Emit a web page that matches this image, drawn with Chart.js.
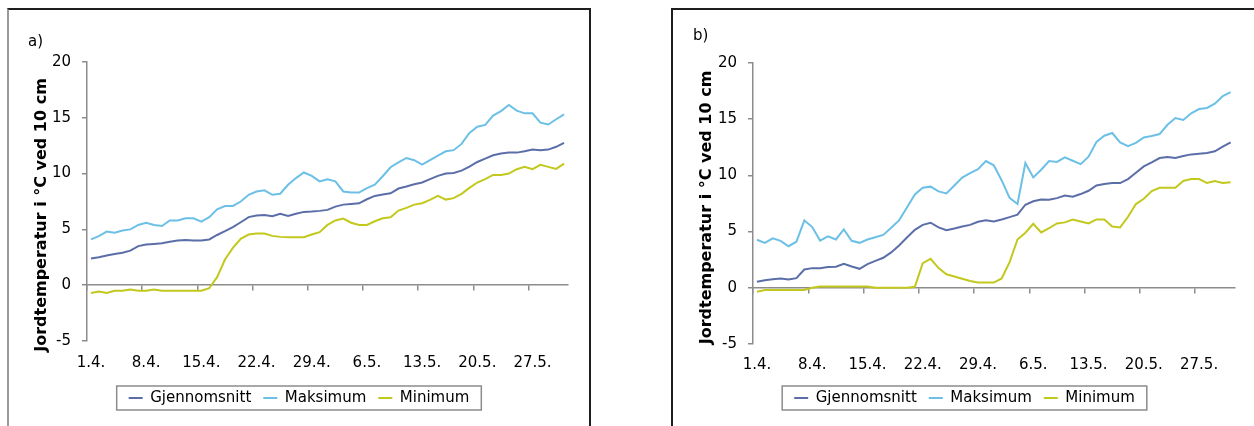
<!DOCTYPE html>
<html>
<head>
<meta charset="utf-8">
<script src="https://cdn.jsdelivr.net/npm/chart.js@4.4.1/dist/chart.umd.min.js"></script>
<style>
  body { margin: 0; background: #fff; overflow: hidden; width: 1254px; height: 426px; position: relative; }
  .panel { position: absolute; top: 8px; height: 440px; }
  #panelA { left: 7px; width: 580px; border-top: 2px solid #1e1e1e; border-left: 2px solid #9a9a9a; border-right: 2px solid #1e1e1e; }
  #panelB { left: 671px; width: 600px; border-top: 2px solid #1e1e1e; border-left: 2px solid #1e1e1e; }
  .panel canvas { position: absolute; left: 0; top: 0; }
  .tag { position: absolute; font: 15px 'DejaVu Sans', sans-serif; line-height: 18px; color: #000; }
</style>
</head>
<body>
<div class="panel" id="panelA"><canvas id="chartA" width="580" height="416"></canvas></div>
<div class="panel" id="panelB"><canvas id="chartB" width="583" height="416"></canvas></div>
<div class="tag" style="left:28px; top:32px;">a)</div>
<div class="tag" style="left:693px; top:26px;">b)</div>
<script>
// Soil temperature at 10 cm, 1 April - 31 May

const dayLabels = [
    '1.4.', '2.4.', '3.4.', '4.4.', '5.4.', '6.4.', '7.4.', '8.4.', '9.4.', '10.4.',
    '11.4.', '12.4.', '13.4.', '14.4.', '15.4.', '16.4.', '17.4.', '18.4.', '19.4.', '20.4.',
    '21.4.', '22.4.', '23.4.', '24.4.', '25.4.', '26.4.', '27.4.', '28.4.', '29.4.', '30.4.',
    '1.5.', '2.5.', '3.5.', '4.5.', '5.5.', '6.5.', '7.5.', '8.5.', '9.5.', '10.5.',
    '11.5.', '12.5.', '13.5.', '14.5.', '15.5.', '16.5.', '17.5.', '18.5.', '19.5.', '20.5.',
    '21.5.', '22.5.', '23.5.', '24.5.', '25.5.', '26.5.', '27.5.', '28.5.', '29.5.', '30.5.',
    '31.5.'
];

// Panel a)
const avgA = [2.4, 2.5, 2.66, 2.8, 2.9, 3.1, 3.5, 3.64, 3.7, 3.76, 3.9, 4.0, 4.06, 4.0, 4.0, 4.1, 4.5, 4.84, 5.2, 5.64,
    6.1, 6.24, 6.3, 6.18, 6.4, 6.2, 6.4, 6.57, 6.6, 6.66, 6.75, 7.04, 7.22, 7.28, 7.34, 7.7, 8.0, 8.12, 8.24, 8.66,
    8.84, 9.04, 9.2, 9.5, 9.8, 10.0, 10.06, 10.27, 10.63, 11.04, 11.34, 11.64, 11.8, 11.88, 11.88, 12.0, 12.15, 12.1, 12.15, 12.4,
    12.75];
const maxA = [4.1, 4.4, 4.8, 4.7, 4.9, 5.0, 5.4, 5.6, 5.4, 5.3, 5.8, 5.8, 6.0, 6.0, 5.7, 6.1, 6.8, 7.1, 7.1, 7.5,
    8.1, 8.4, 8.5, 8.1, 8.2, 9.0, 9.6, 10.1, 9.8, 9.3, 9.5, 9.3, 8.4, 8.3, 8.3, 8.7, 9.0, 9.76, 10.57, 11.0,
    11.4, 11.2, 10.8, 11.2, 11.6, 12.0, 12.1, 12.66, 13.64, 14.2, 14.36, 15.2, 15.6, 16.15, 15.64, 15.4, 15.4, 14.57, 14.4, 14.87,
    15.3];
const minA = [-0.69, -0.57, -0.69, -0.5, -0.5, -0.39, -0.5, -0.5, -0.39, -0.5, -0.5, -0.5, -0.5, -0.5, -0.5, -0.27, 0.72, 2.3, 3.34, 4.15,
    4.54, 4.63, 4.63, 4.42, 4.33, 4.3, 4.3, 4.3, 4.54, 4.75, 5.4, 5.8, 5.97, 5.6, 5.4, 5.4, 5.73, 6.0, 6.09, 6.69,
    6.93, 7.22, 7.34, 7.64, 8.0, 7.67, 7.8, 8.18, 8.72, 9.2, 9.5, 9.88, 9.88, 10.0, 10.39, 10.6, 10.39, 10.78, 10.6, 10.42,
    10.9];

// Panel b)
const avgB = [0.53, 0.68, 0.77, 0.83, 0.74, 0.86, 1.63, 1.75, 1.75, 1.84, 1.87, 2.14, 1.9, 1.69, 2.1, 2.4, 2.67, 3.15, 3.77, 4.48,
    5.16, 5.6, 5.79, 5.37, 5.13, 5.28, 5.46, 5.6, 5.88, 6.0, 5.9, 6.08, 6.29, 6.5, 7.39, 7.7, 7.86, 7.83, 7.98, 8.2,
    8.1, 8.34, 8.63, 9.1, 9.23, 9.32, 9.32, 9.67, 10.24, 10.8, 11.16, 11.54, 11.63, 11.54, 11.72, 11.87, 11.93, 12.0, 12.14, 12.55,
    12.94];
const maxB = [4.27, 4.0, 4.4, 4.18, 3.7, 4.1, 6.0, 5.4, 4.2, 4.57, 4.3, 5.2, 4.18, 4.0, 4.3, 4.5, 4.7, 5.34, 6.0, 7.15,
    8.3, 8.9, 9.0, 8.58, 8.4, 9.1, 9.8, 10.2, 10.56, 11.28, 10.9, 9.55, 8.0, 7.45, 11.1, 9.82, 10.5, 11.28, 11.2, 11.6,
    11.3, 11.0, 11.66, 12.97, 13.53, 13.77, 12.94, 12.6, 12.9, 13.38, 13.5, 13.68, 14.5, 15.1, 14.93, 15.52, 15.9, 16.0, 16.38, 17.06,
    17.4];
const minB = [-0.36, -0.2, -0.2, -0.2, -0.2, -0.2, -0.2, 0.0, 0.12, 0.12, 0.12, 0.12, 0.12, 0.12, 0.12, 0.0, 0.0, 0.0, 0.0, 0.0,
    0.09, 2.2, 2.58, 1.75, 1.2, 1.0, 0.8, 0.6, 0.47, 0.47, 0.47, 0.83, 2.28, 4.3, 4.9, 5.7, 4.93, 5.3, 5.73, 5.82,
    6.08, 5.9, 5.73, 6.08, 6.08, 5.46, 5.37, 6.32, 7.45, 7.92, 8.6, 8.9, 8.9, 8.9, 9.5, 9.67, 9.67, 9.32, 9.5, 9.32,
    9.4];

const seriesNames = ['Gjennomsnitt', 'Maksimum', 'Minimum'];
const seriesColors = ['#5b6ea8', '#6cc0e6', '#c3c81c'];
const yTicks = [-5, 0, 5, 10, 15, 20];
const yTitle = 'Jordtemperatur i °C ved 10 cm';
const labelEvery = 7;

const axisGray = '#8c8c8c';

Chart.defaults.font.family = "'DejaVu Sans', sans-serif";
Chart.defaults.font.size = 15;
Chart.defaults.color = '#000';

// Rotated y title, centred a bit below the plot like Excel does
const yTitlePlugin = {
    id: 'yTitle',
    afterDraw(chart, args, opts) {
        const { ctx, chartArea } = chart;
        ctx.save();
        ctx.translate(chartArea.left - opts.gap, (chartArea.top + chartArea.bottom) / 2 + opts.shift);
        ctx.rotate(-Math.PI / 2);
        ctx.font = "bold 16px 'DejaVu Sans', sans-serif";
        ctx.fillStyle = '#000';
        ctx.textAlign = 'center';
        ctx.textBaseline = 'middle';
        ctx.fillText(opts.text, 0, 0);
        ctx.restore();
    }
};

// Frame round the legend items
const legendFramePlugin = {
    id: 'legendFrame',
    afterDraw(chart) {
        const boxes = chart.legend && chart.legend.legendHitBoxes;
        if (!boxes || !boxes.length) return;
        const first = boxes[0];
        const last = boxes[boxes.length - 1];
        const cy = first.top + first.height / 2;
        const left = first.left - 12;
        const right = last.left + last.width + 12;
        const ctx = chart.ctx;
        ctx.save();
        ctx.strokeStyle = axisGray;
        ctx.lineWidth = 1.5;
        ctx.strokeRect(left, cy - 12, right - left, 24);
        ctx.restore();
    }
};

function makeDataset(name, values, color) {
    return {
        label: name,
        data: values,
        borderColor: color,
        backgroundColor: color,
        borderWidth: 2,
        pointRadius: 0,
        tension: 0,
        fill: false,
        xAxisID: 'x',
        yAxisID: 'y'
    };
}

function makeChart(canvasId, avg, max, min, lay) {
    const ctx = document.getElementById(canvasId).getContext('2d');
    return new Chart(ctx, {
        type: 'line',
        data: {
            labels: dayLabels,
            datasets: [
                makeDataset(seriesNames[0], avg, seriesColors[0]),
                makeDataset(seriesNames[1], max, seriesColors[1]),
                makeDataset(seriesNames[2], min, seriesColors[2])
            ]
        },
        plugins: [yTitlePlugin, legendFramePlugin],
        options: {
            responsive: false,
            animation: false,
            devicePixelRatio: 1,
            layout: { padding: lay.padding },
            plugins: {
                legend: {
                    position: 'bottom',
                    labels: {
                        boxWidth: 14,
                        boxHeight: 2,
                        padding: 12,
                        color: '#000',
                        font: { size: 15 },
                        generateLabels: (chart) =>
                            Chart.defaults.plugins.legend.labels.generateLabels(chart)
                                .map(item => Object.assign(item, { lineWidth: 0 }))
                    }
                },
                tooltip: { enabled: false },
                yTitle: { text: yTitle, gap: lay.titleGap, shift: lay.titleShift }
            },
            scales: {
                x: {
                    type: 'category',
                    position: 'bottom',
                    offset: true,
                    grid: { display: false, drawTicks: false },
                    border: { display: false },
                    afterFit: (s) => { s.height = lay.xHeight; },
                    ticks: {
                        autoSkip: false,
                        maxRotation: 0,
                        minRotation: 0,
                        padding: lay.xPad,
                        font: { size: 15 },
                        callback: function(value, index) {
                            return index % labelEvery === 0 ? this.getLabelForValue(value) : '';
                        }
                    }
                },
                // axis line crossing at 0 with tick marks between weeks
                x0: {
                    type: 'category',
                    position: { y: 0 },
                    offset: true,
                    ticks: { display: false },
                    grid: {
                        offset: true,
                        drawOnChartArea: false,
                        drawTicks: true,
                        tickLength: 5,
                        lineWidth: 1.5,
                        color: (c) => c.index % labelEvery === 0 ? axisGray : 'rgba(0,0,0,0)'
                    },
                    border: { display: true, color: axisGray, width: 1.5 }
                },
                y: {
                    position: 'left',
                    min: yTicks[0],
                    max: yTicks[yTicks.length - 1],
                    afterFit: (s) => { s.width = lay.yWidth; },
                    ticks: {
                        stepSize: yTicks[1] - yTicks[0],
                        padding: 11,
                        font: { size: 15 }
                    },
                    grid: {
                        drawOnChartArea: false,
                        drawTicks: true,
                        tickLength: 5,
                        lineWidth: 1.5,
                        color: axisGray
                    },
                    border: { display: true, color: axisGray, width: 1.5 }
                }
            }
        }
    });
}

// left padding equals right padding so the legend sits in the middle of the panel
makeChart('chartA', avgA, maxA, minA, {
    padding: { top: 52, right: 21, bottom: 10.5, left: 21 },
    yWidth: 57, xHeight: 37.5, xPad: 13, titleGap: 45, titleShift: 13.5
});

makeChart('chartB', avgB, maxB, minB, {
    padding: { top: 53, right: 21.4, bottom: 10.5, left: 21.4 },
    yWidth: 58.6, xHeight: 34.5, xPad: 12, titleGap: 46, titleShift: 4
});
</script>
</body>
</html>
